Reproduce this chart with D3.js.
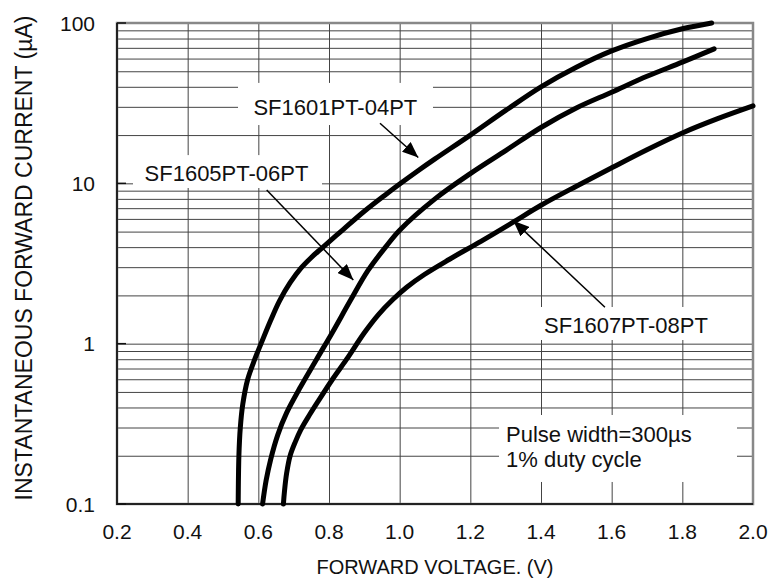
<!DOCTYPE html>
<html>
<head>
<meta charset="utf-8">
<script src="https://cdn.jsdelivr.net/npm/d3@7"></script>
<style>
  body { margin: 0; background: #fff; }
  text { font-family: "Liberation Sans", Arial, sans-serif; fill: #111; }
</style>
</head>
<body>
<div id="chart"></div>
<script>
/* tick labels */
const voltTicks = [0.2, 0.4, 0.6, 0.8, 1.0, 1.2, 1.4, 1.6, 1.8, 2.0];
const currentTicks = [0.1, 1, 10, 100];

/* forward voltage (V) / current (uA) */
const vA = [0.543, 0.545, 0.549, 0.556, 0.57, 0.59, 0.61, 0.635, 0.66, 0.69, 0.72, 0.75, 0.78, 0.84, 0.9, 0.96, 1.0, 1.05, 1.1, 1.2, 1.3, 1.4, 1.5, 1.6, 1.7, 1.8, 1.883];
const iA = [0.1, 0.2, 0.3, 0.42, 0.6, 0.8, 1.03, 1.4, 1.85, 2.4, 2.95, 3.45, 3.95, 5.15, 6.7, 8.5, 9.9, 11.9, 14.2, 20, 28.5, 40, 53, 67, 80, 92, 100];

const vB = [0.612, 0.622, 0.635, 0.655, 0.68, 0.72, 0.765, 0.81, 0.86, 0.91, 0.96, 1.0, 1.1, 1.2, 1.3, 1.4, 1.5, 1.6, 1.7, 1.8, 1.89];
const iB = [0.1, 0.14, 0.19, 0.27, 0.37, 0.54, 0.8, 1.18, 1.85, 2.85, 4.0, 5.1, 8.0, 11.5, 16, 22.3, 29.5, 37, 46.5, 57, 69];

const vC = [0.671, 0.674, 0.68, 0.69, 0.705, 0.72, 0.745, 0.77, 0.81, 0.85, 0.9, 0.94, 0.98, 1.02, 1.07, 1.14, 1.23, 1.32, 1.4, 1.5, 1.6, 1.7, 1.8, 1.9, 2.0];
const iC = [0.1, 0.12, 0.155, 0.2, 0.245, 0.29, 0.36, 0.44, 0.6, 0.8, 1.17, 1.52, 1.88, 2.25, 2.7, 3.35, 4.35, 5.7, 7.3, 9.6, 12.5, 16.2, 20.6, 25.3, 30.4];

const seriesNames = ["SF1601PT-04PT", "SF1605PT-06PT", "SF1607PT-08PT"];
const noteLines = ["Pulse width=300\u00b5s", "1% duty cycle"];

const chartW = 781, chartH = 581;
const pLeft = 117, pRight = 753, pTop = 23, pBottom = 504;

const svg = d3.select("#chart").append("svg")
    .attr("width", chartW)
    .attr("height", chartH);

const x = d3.scaleLinear().domain([0.2, 2.0]).range([pLeft, pRight]);
const y = d3.scaleLog().domain([0.1, 100]).range([pBottom, pTop]);

/* minor grid values 0.1..100 */
const minorVals = [];
[0.1, 1, 10].forEach(d => { for (let k = 1; k <= 9; k++) minorVals.push(+(d * k).toPrecision(3)); });
minorVals.push(100);

/* grid lines via axes */
svg.append("g")
    .attr("transform", `translate(0,${pBottom})`)
    .call(d3.axisBottom(x).tickValues(voltTicks).tickSize(-(pBottom - pTop)).tickFormat(""))
    .call(g => g.select(".domain").remove())
    .call(g => g.selectAll("line").attr("stroke", "#444").attr("stroke-width", 1));

svg.append("g")
    .attr("transform", `translate(${pLeft},0)`)
    .call(d3.axisLeft(y).tickValues(minorVals).tickSize(-(pRight - pLeft)).tickFormat(""))
    .call(g => g.select(".domain").remove())
    .call(g => g.selectAll("line").attr("stroke", "#444").attr("stroke-width", 1));

/* white boxes behind labels (data coords) */
const boxes = [
  {v0: 0.5425, v1: 1.0943, i0: 23.1, i1: 42.3},
  {v0: 0.2453, v1: 0.7802, i0: 9.35, i1: 15.0},
  {v0: 1.3834, v1: 1.907, i0: 1.054, i1: 1.693},
  {v0: 1.2812, v1: 1.9547, i0: 0.1372, i1: 0.359}
];
svg.append("g").selectAll("rect").data(boxes).join("rect")
    .attr("x", d => x(d.v0))
    .attr("y", d => y(d.i1))
    .attr("width", d => x(d.v1) - x(d.v0))
    .attr("height", d => y(d.i0) - y(d.i1))
    .attr("fill", "#fff");

/* frame */
svg.append("rect")
    .attr("x", pLeft).attr("y", pTop)
    .attr("width", pRight - pLeft).attr("height", pBottom - pTop)
    .attr("fill", "none").attr("stroke", "#888").attr("stroke-width", 2.5);
svg.append("path")
    .attr("d", `M${pLeft},${pTop} V${pBottom} H${pRight}`)
    .attr("fill", "none").attr("stroke", "#222").attr("stroke-width", 2);

/* small decade ticks on left edge */
svg.append("g").selectAll("line").data(currentTicks).join("line")
    .attr("x1", pLeft).attr("x2", pLeft + 9)
    .attr("y1", d => y(d)).attr("y2", d => y(d))
    .attr("stroke", "#111").attr("stroke-width", 1.5);

/* curves */
const line = d3.line()
    .x(d => x(d[0]))
    .y(d => y(d[1]))
    .curve(d3.curveCatmullRom.alpha(0.5));

[[vA, iA], [vB, iB], [vC, iC]].forEach(([vs, is]) => {
  svg.append("path")
      .datum(vs.map((v, k) => [v, is[k]]))
      .attr("d", line)
      .attr("fill", "none")
      .attr("stroke", "#000")
      .attr("stroke-width", 5)
      .attr("stroke-linecap", "round")
      .attr("stroke-linejoin", "round");
});

/* arrow head */
svg.append("defs").append("marker")
    .attr("id", "head")
    .attr("markerUnits", "userSpaceOnUse")
    .attr("viewBox", "0 0 16 13")
    .attr("refX", 16).attr("refY", 6.5)
    .attr("markerWidth", 16).attr("markerHeight", 13)
    .attr("orient", "auto")
  .append("path")
    .attr("d", "M0,0 L16,6.5 L0,13 Z")
    .attr("fill", "#000");

/* annotations: label text + arrow, in data coords */
const notes = [
  {name: seriesNames[0], tv: 0.818, ti: 26.7, a: [0.9443, 23.7, 1.0527, 14.5]},
  {name: seriesNames[1], tv: 0.5099, ti: 10.4, a: [0.6237, 9.09, 0.8688, 2.495]},
  {name: seriesNames[2], tv: 1.6406, ti: 1.16, a: [1.581, 1.686, 1.3216, 5.85]}
];

svg.append("g").selectAll("line").data(notes).join("line")
    .attr("x1", d => x(d.a[0])).attr("y1", d => y(d.a[1]))
    .attr("x2", d => x(d.a[2])).attr("y2", d => y(d.a[3]))
    .attr("stroke", "#000").attr("stroke-width", 1.5)
    .attr("marker-end", "url(#head)");

svg.append("g").selectAll("text").data(notes).join("text")
    .attr("x", d => x(d.tv)).attr("y", d => y(d.ti))
    .attr("text-anchor", "middle")
    .attr("font-size", 22)
    .text(d => d.name);

/* pulse note */
svg.append("g").selectAll("text").data(noteLines).join("text")
    .attr("x", x(1.301))
    .attr("y", (d, k) => y([0.2436, 0.1702][k]))
    .attr("font-size", 22)
    .text(d => d);

/* tick labels */
svg.append("g").selectAll("text").data(voltTicks).join("text")
    .attr("x", d => x(d)).attr("y", 539)
    .attr("text-anchor", "middle")
    .attr("font-size", 21)
    .text(d => d.toFixed(1));

svg.append("g").selectAll("text").data(currentTicks).join("text")
    .attr("x", 95).attr("y", d => y(d) + 7.5)
    .attr("text-anchor", "end")
    .attr("font-size", 21)
    .text(d => d);

/* axis titles */
svg.append("text")
    .attr("x", (pLeft + pRight) / 2).attr("y", 574)
    .attr("text-anchor", "middle")
    .attr("font-size", 20)
    .text("FORWARD VOLTAGE. (V)");

svg.append("text")
    .attr("transform", "translate(32,258) rotate(-90)")
    .attr("text-anchor", "middle")
    .attr("font-size", 23)
    .text("INSTANTANEOUS FORWARD CURRENT (\u00b5A)");
</script>
</body>
</html>
